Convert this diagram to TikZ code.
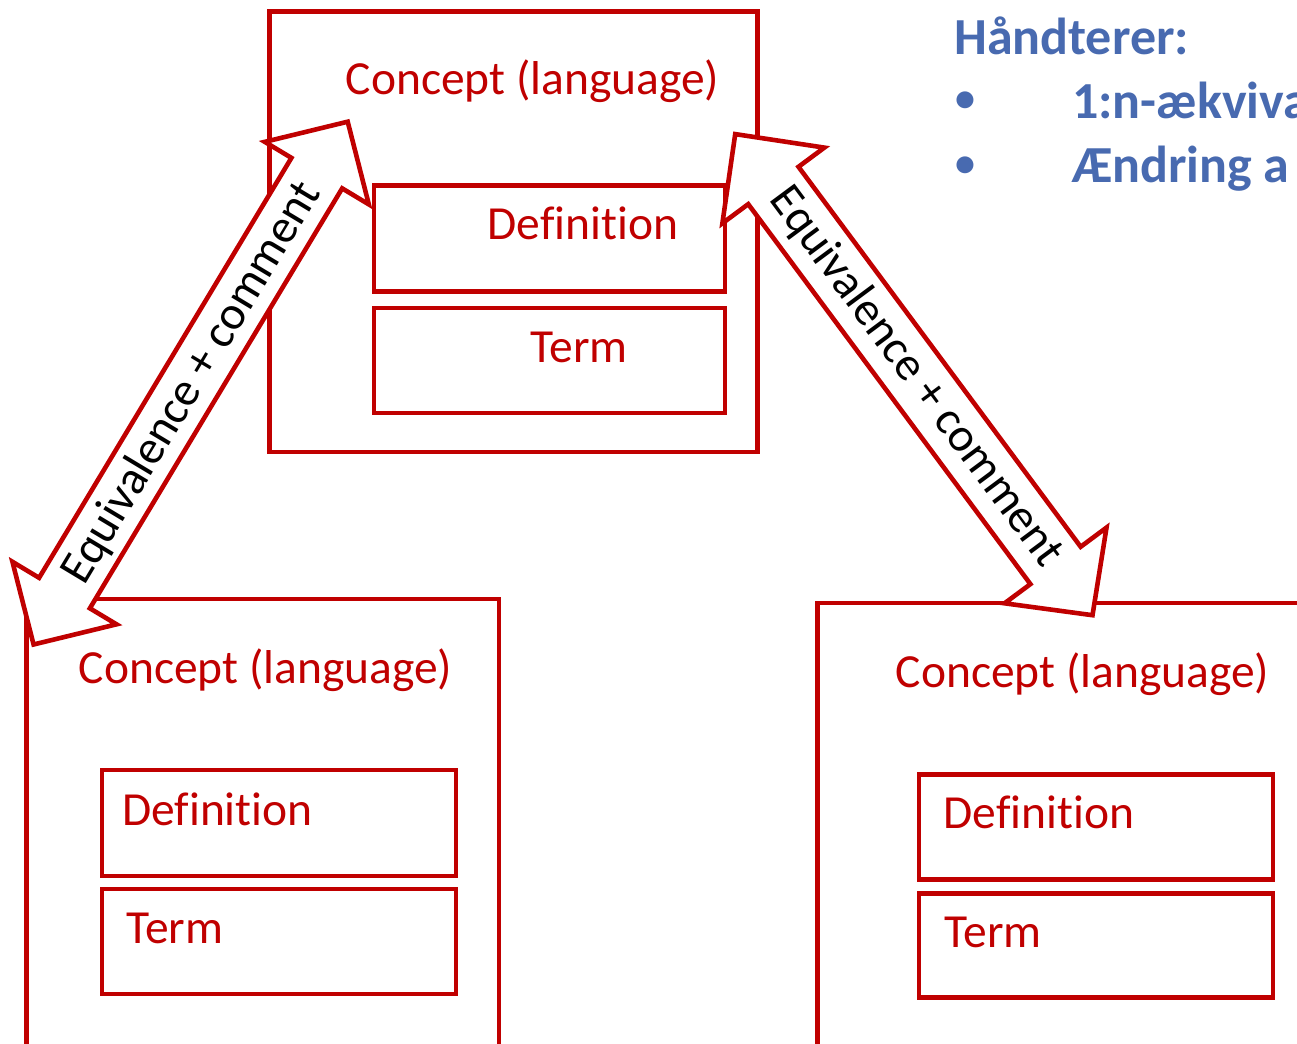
\documentclass[tikz,border=0pt]{standalone}
\usepackage{fontspec}
\setmainfont[Ligatures={CommonOff}]{Carlito}
\usetikzlibrary{calc}
\definecolor{cred}{RGB}{192,0,0}
\definecolor{cblue}{RGB}{72,106,176}
\begin{document}
\begin{tikzpicture}[x=1pt,y=-1pt,
  box/.style={draw=cred, line width=4.6pt, fill=white, outer sep=0pt, inner sep=0pt, anchor=north west},
  redtext/.style={text=cred, font=\fontsize{47.5}{56}\selectfont, inner sep=0pt},
  arrowtext/.style={text=black, font=\fontsize{47.5}{56}\selectfont, inner sep=0pt},
  bluetext/.style={text=cblue, font=\fontsize{52}{60}\selectfont\bfseries, inner sep=0pt, anchor=base west},
  bullettext/.style={text=cblue, font=\fontsize{40}{48}\selectfont\bfseries, inner sep=0pt, anchor=base west},
  blockarrow/.style={draw=cred, line width=4.6pt, fill=white, line join=miter}]
\useasboundingbox (0,0) rectangle (1297,1043);
\clip (0,0) rectangle (1297,1043);
% top concept
\node[box, minimum width=488pt, minimum height=440.5pt] (topc) at (269.5,11.5) {};
\node[box, minimum width=351pt, minimum height=106pt] (topd) at (374,185.5) {};
\node[box, minimum width=351pt, minimum height=105pt] (topt) at (374,308) {};
\node[redtext, anchor=base] (topcl) at (532.6,94.3) {Concept (language)};
\node[redtext, anchor=base] (topdl) at (583,239.5) {Definition};
\node[redtext, anchor=base] (toptl) at (579,362) {Term};
% bottom left concept
\node[box, minimum width=472.5pt, minimum height=520pt] (blc) at (26.5,599) {};
\node[box, minimum width=354pt, minimum height=106pt] (bld) at (102,770) {};
\node[box, minimum width=354pt, minimum height=105pt] (blt) at (102,889) {};
\node[redtext, anchor=base] (blcl) at (265.5,683) {Concept (language)};
\node[redtext, anchor=base west] (bldl) at (122,825) {Definition};
\node[redtext, anchor=base west] (bltl) at (126,943) {Term};
% bottom right concept
\node[box, minimum width=560pt, minimum height=520pt] (brc) at (817.5,603) {};
\node[box, minimum width=354pt, minimum height=105pt] (brd) at (919,774.3) {};
\node[box, minimum width=354pt, minimum height=104pt] (brt) at (919,893.3) {};
\node[redtext, anchor=base] (brcl) at (1082.5,687.3) {Concept (language)};
\node[redtext, anchor=base west] (brdl) at (943.5,828.3) {Definition};
\node[redtext, anchor=base west] (brtl) at (944.5,947.7) {Term};
% left block arrow
\coordinate (la) at (347.7,121.7);
\begin{scope}[shift={(la)}, rotate=-121]
  \draw[blockarrow] (0,0) -- (60,60.7) -- (60,29.6) -- (549.9,29.6) -- (549.9,60.7) -- (609.9,0)
    -- (549.9,-60.7) -- (549.9,-29.6) -- (60,-29.6) -- (60,-60.7) -- cycle;
\end{scope}
\node[arrowtext, rotate=59] (eql) at (192,383.3) {Equivalence + comment};
% right block arrow
\coordinate (ra) at (735.2,134.1);
\begin{scope}[shift={(ra)}, rotate=-53.4]
  \draw[blockarrow] (0,0) -- (64,63.5) -- (64,31.3) -- (537.3,31.3) -- (537.3,63.5) -- (599.3,0)
    -- (537.3,-63.5) -- (537.3,-31.3) -- (64,-31.3) -- (64,-63.5) -- cycle;
\end{scope}
\node[arrowtext, rotate=-53.4] (eqr) at (916,377) {Equivalence + comment};
% blue text
\node[bluetext] (hd) at (954,55) {Håndterer:};
\node[bullettext] (b1) at (955,112) {•};
\node[bluetext] (t1) at (1072,118.3) {1:n-ækviva};
\node[bullettext] (b2) at (955,176.5) {•};
\node[bluetext] (t2) at (1072,182.7) {Ændring a};
\end{tikzpicture}
\end{document}
